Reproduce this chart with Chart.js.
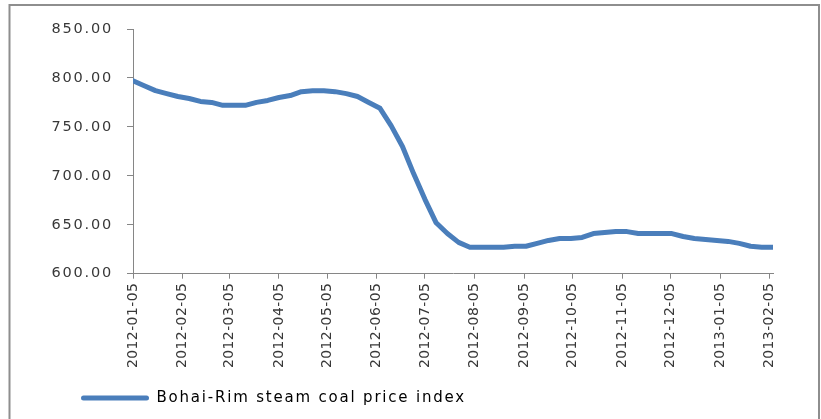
<!DOCTYPE html>
<html lang="en">
<head>
    <meta charset="UTF-8">
    <title>Bohai-Rim steam coal price index</title>
    <script src="https://cdn.jsdelivr.net/npm/chart.js"></script>
    <style>
        html, body { margin: 0; padding: 0; background: #fff; }
        #wrap { width: 821px; height: 419px; position: relative; }
    </style>
</head>
<body>
    <div id="wrap"><canvas id="coalChart"></canvas></div>
    <script>
        // weekly index readings
        const weekDates = [
            '2012-01-05', '2012-01-12', '2012-01-19', '2012-01-26', '2012-02-02', '2012-02-09', '2012-02-16', '2012-02-23',
            '2012-03-01', '2012-03-08', '2012-03-15', '2012-03-22', '2012-03-29', '2012-04-05', '2012-04-12', '2012-04-19',
            '2012-04-26', '2012-05-03', '2012-05-10', '2012-05-17', '2012-05-24', '2012-05-31', '2012-06-07', '2012-06-14',
            '2012-06-21', '2012-06-28', '2012-07-05', '2012-07-12', '2012-07-19', '2012-07-26', '2012-08-02', '2012-08-09',
            '2012-08-16', '2012-08-23', '2012-08-30', '2012-09-06', '2012-09-13', '2012-09-20', '2012-09-27', '2012-10-04',
            '2012-10-11', '2012-10-18', '2012-10-25', '2012-11-01', '2012-11-08', '2012-11-15', '2012-11-22', '2012-11-29',
            '2012-12-06', '2012-12-13', '2012-12-20', '2012-12-27', '2013-01-03', '2013-01-10', '2013-01-17', '2013-01-24',
            '2013-01-31', '2013-02-07'
        ];
        const indexValues = [
            797, 792, 787, 784, 781, 779, 776, 775,
            772, 772, 772, 775, 777, 780, 782, 786,
            787, 787, 786, 784, 781, 775, 769, 751,
            730, 702, 676, 652, 641, 632, 627, 627,
            627, 627, 628, 628, 631, 634, 636, 636,
            637, 641, 642, 643, 643, 641, 641, 641,
            641, 638, 636, 635, 634, 633, 631, 628,
            627, 627
        ];
        const tickDates = [
            '2012-01-05', '2012-02-05', '2012-03-05', '2012-04-05', '2012-05-05', '2012-06-05', '2012-07-05',
            '2012-08-05', '2012-09-05', '2012-10-05', '2012-11-05', '2012-12-05', '2013-01-05', '2013-02-05'
        ];
        const seriesName = 'Bohai-Rim steam coal price index';

        const DAY = 86400000;
        const start = Date.parse(weekDates[0]);
        const toDay = d => (Date.parse(d) - start) / DAY;
        const points = weekDates.map((d, i) => ({ x: toDay(d), y: indexValues[i] }));
        const tickDays = tickDates.map(toDay);

        const axisGrey = '#868686';
        const textGrey = '#383838';
        const lineBlue = '#4a7ebb';
        const fontFam = '"DejaVu Sans", Verdana, sans-serif';

        // the original text is drawn loosely spaced; canvas letterSpacing per box
        function withSpacing(box, method, sp) {
            if (!box || box['_sp_' + method]) return;
            const orig = box[method];
            box[method] = function (...args) {
                this.ctx.save();
                this.ctx.letterSpacing = sp;
                orig.apply(this, args);
                this.ctx.restore();
            };
            box['_sp_' + method] = true;
        }
        const spacedText = {
            id: 'spacedText',
            afterUpdate(chart) {
                withSpacing(chart.scales.x, 'drawLabels', '0.4px');
                withSpacing(chart.scales.y, 'drawLabels', '1.8px');
                withSpacing(chart.legend, 'draw', '1.8px');
                // y axis box is kept narrow so the legend lines up; don't clip its labels to it
                chart.scales.y._computeLabelArea = () => undefined;
            }
        };

        const outerFrame = {
            id: 'outerFrame',
            beforeDraw(chart) {
                const ctx = chart.ctx;
                ctx.save();
                ctx.fillStyle = '#fff';
                ctx.fillRect(0, 0, chart.width, chart.height);
                ctx.strokeStyle = '#8e8e8e';
                ctx.lineWidth = 2;
                ctx.strokeRect(9.5, 5, 809.5, 600);
                ctx.restore();
            }
        };

        new Chart(document.getElementById('coalChart'), {
            type: 'line',
            data: {
                datasets: [{
                    label: seriesName,
                    data: points,
                    borderColor: lineBlue,
                    backgroundColor: lineBlue,
                    borderWidth: 5,
                    pointRadius: 0,
                    tension: 0,
                    borderCapStyle: 'round',
                    borderJoinStyle: 'round'
                }]
            },
            options: {
                responsive: true,
                maintainAspectRatio: false,
                animation: false,
                layout: { padding: { left: 71, right: 48, top: 29, bottom: 3.5 } },
                plugins: {
                    tooltip: { enabled: false },
                    legend: {
                        position: 'bottom',
                        align: 'start',
                        labels: {
                            boxWidth: 68,
                            boxHeight: 5,
                            padding: 10,
                            color: '#262626',
                            font: { family: fontFam, size: 15 },
                            generateLabels: () => [{
                                text: seriesName,
                                fillStyle: lineBlue,
                                strokeStyle: lineBlue,
                                lineWidth: 0,
                                borderRadius: 2.5,
                                datasetIndex: 0
                            }]
                        }
                    }
                },
                scales: {
                    x: {
                        type: 'linear',
                        min: 0,
                        max: toDay(weekDates[weekDates.length - 1]),
                        afterBuildTicks: scale => { scale.ticks = tickDays.map(v => ({ value: v })); },
                        afterFit: scale => { scale.height = 106.8; },
                        grid: { drawOnChartArea: false, drawTicks: true, tickLength: 5, color: axisGrey },
                        border: { display: true, color: axisGrey, width: 1 },
                        ticks: {
                            autoSkip: false,
                            minRotation: 90,
                            maxRotation: 90,
                            padding: 4,
                            color: textGrey,
                            font: { family: fontFam, size: 14 },
                            callback: (v, i) => tickDates[i]
                        }
                    },
                    y: {
                        min: 600,
                        max: 850,
                        afterFit: scale => { scale.width = 62; },
                        grid: { drawOnChartArea: false, drawTicks: true, tickLength: 6, color: axisGrey },
                        border: { display: true, color: axisGrey, width: 1 },
                        ticks: {
                            stepSize: 50,
                            padding: 14,
                            color: textGrey,
                            font: { family: fontFam, size: 14.5 },
                            callback: v => v.toFixed(2)
                        }
                    }
                }
            },
            plugins: [spacedText, outerFrame]
        });
    </script>
</body>
</html>
